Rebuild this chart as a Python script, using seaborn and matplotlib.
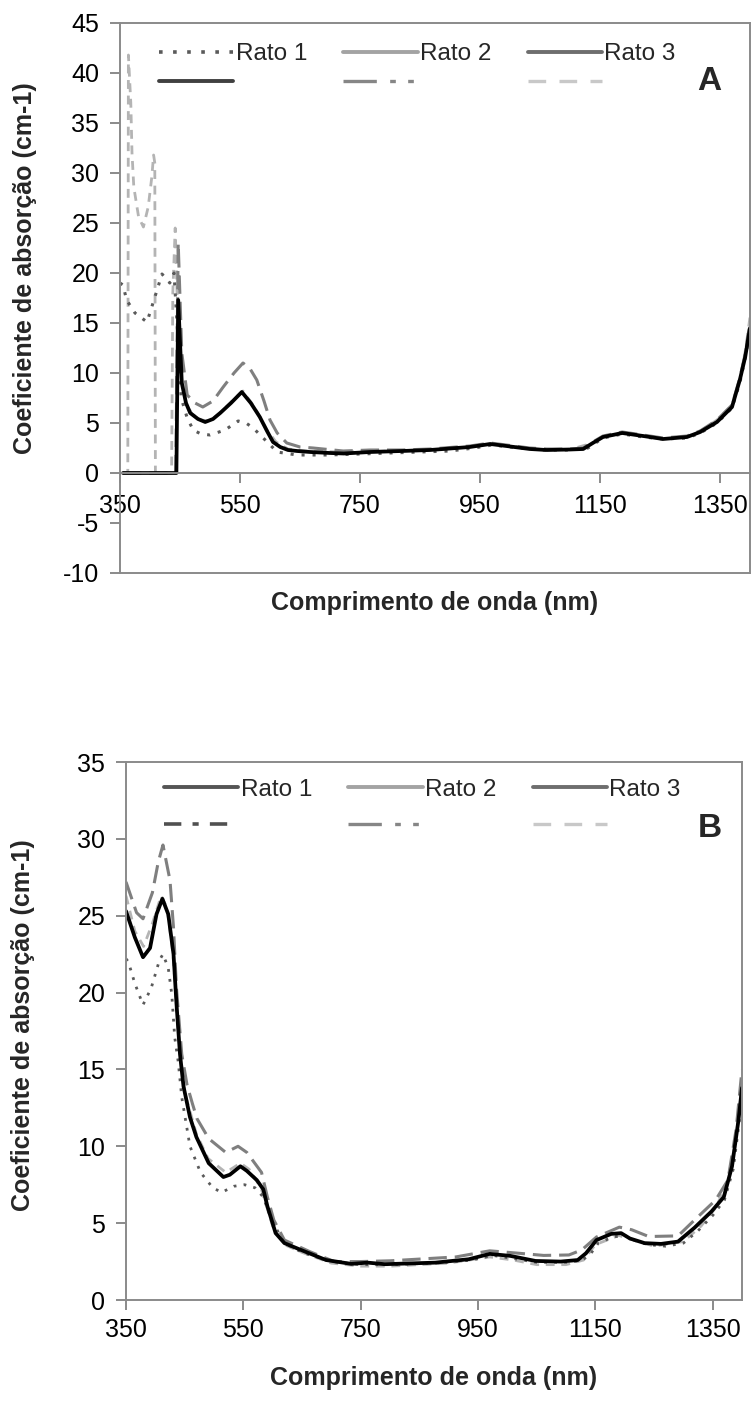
import matplotlib
matplotlib.use("Agg")
import matplotlib.pyplot as plt
import seaborn as sns
from matplotlib.lines import Line2D

# ---------------- Panel A data ----------------
a_rato1_nm = [350, 355, 361, 375, 395, 405, 420, 433, 440, 445, 452, 462, 472, 485, 500, 525, 547, 560, 572, 592,
              612, 645, 695, 750, 800, 850, 900, 940, 970, 1000, 1050, 1100, 1130, 1155, 1187, 1222, 1255, 1295, 1317, 1345,
              1370, 1383, 1392, 1400]
a_rato1 = [19.0, 18.8, 17.3, 16.0, 15.1, 17.0, 19.9, 19.0, 20.0, 15.0, 7.5, 5.5, 4.3, 3.9, 3.8, 4.3, 5.2, 5.0, 4.5, 3.3,
           2.1, 1.8, 1.8, 1.9, 2.0, 2.1, 2.2, 2.5, 2.8, 2.6, 2.3, 2.3, 2.5, 3.5, 3.9, 3.6, 3.4, 3.5, 4.0, 5.0,
           6.5, 9.0, 11.5, 14.2]

a_solid_nm = [355, 444, 447, 453, 460, 467, 480, 492, 505, 517, 535, 553, 568, 583, 595, 605, 617, 630, 645, 667,
              700, 723, 767, 820, 867, 933, 967, 994, 1033, 1061, 1100, 1122, 1138, 1155, 1187, 1222, 1255, 1295, 1317, 1345,
              1370, 1383, 1392, 1398, 1400]
a_solid = [0, 0, 17.3, 9.0, 7.0, 6.0, 5.4, 5.1, 5.4, 6.0, 7.0, 8.1, 7.0, 5.6, 4.2, 3.1, 2.6, 2.3, 2.2, 2.1,
           2.0, 1.95, 2.1, 2.2, 2.3, 2.6, 2.9, 2.7, 2.4, 2.3, 2.35, 2.4, 3.0, 3.6, 4.0, 3.7, 3.4, 3.6, 4.1, 5.1,
           6.6, 9.3, 11.6, 13.8, 14.5]

a_dashdot_nm = [355, 443, 447, 453, 462, 475, 488, 505, 522, 540, 555, 567, 578, 590, 600, 612, 628, 650, 672, 722,
                767, 820, 867, 933, 967, 994, 1033, 1061, 1100, 1122, 1138, 1155, 1187, 1222, 1255, 1295, 1317, 1345, 1370, 1383,
                1392, 1400]
a_dashdot = [0, 0, 23.0, 12.0, 7.8, 7.0, 6.6, 7.2, 8.6, 10.0, 11.0, 10.4, 9.3, 7.2, 5.3, 4.0, 3.0, 2.6, 2.5, 2.2,
             2.3, 2.3, 2.4, 2.7, 3.0, 2.8, 2.5, 2.4, 2.4, 2.5, 3.1, 3.7, 4.1, 3.8, 3.5, 3.7, 4.2, 5.3, 6.8, 9.5,
             11.9, 15.0]

a_dash_nm = [355, 363, 364, 368, 370, 373, 381, 389, 397, 403, 406, 408, 409, 436, 438, 442, 446, 452, 460, 470,
             485, 500, 520, 540, 555, 575, 595, 610, 630, 660, 720, 800, 900, 967, 1000, 1060, 1100, 1138, 1155, 1190,
             1222, 1255, 1295, 1320, 1345, 1370, 1385, 1393, 1400]
a_dash = [0, 0, 41.8, 37.0, 32.0, 28.6, 25.6, 24.6, 26.6, 29.6, 31.8, 31.0, 0, 0, 18.0, 24.5, 16.0, 9.5, 7.0, 5.9,
          5.3, 5.2, 6.2, 7.4, 8.2, 6.5, 4.3, 3.1, 2.4, 2.2, 2.1, 2.2, 2.4, 2.9, 2.7, 2.3, 2.35, 3.0, 3.6, 4.0,
          3.7, 3.4, 3.6, 4.3, 5.3, 6.8, 9.8, 12.5, 15.6]

# ---------------- Panel B data ----------------
b_solid_nm = [350, 365, 379, 391, 402, 412, 422, 431, 436, 442, 448, 459, 470, 491, 516, 527, 545, 556, 573, 584,
              591, 605, 620, 648, 691, 734, 762, 791, 877, 934, 970, 1005, 1048, 1091, 1120, 1134, 1152, 1177, 1194, 1209,
              1234, 1262, 1291, 1319, 1348, 1369, 1383, 1394, 1400]
b_solid = [25.3, 23.6, 22.3, 22.9, 25.1, 26.1, 25.1, 22.5, 19.3, 16.0, 13.9, 11.9, 10.6, 8.9, 8.0, 8.15, 8.7, 8.4, 7.8, 7.2,
           6.1, 4.35, 3.7, 3.26, 2.6, 2.35, 2.43, 2.33, 2.43, 2.65, 3.0, 2.87, 2.54, 2.5, 2.6, 3.04, 3.9, 4.3, 4.35, 4.0,
           3.7, 3.65, 3.8, 4.7, 5.76, 6.7, 8.7, 11.7, 13.8]

b_dot_nm = [350, 354, 365, 379, 393, 407, 413, 422, 428, 433, 439, 445, 459, 477, 498, 513, 534, 552, 570, 584,
            598, 620, 650, 700, 750, 800, 880, 940, 975, 1010, 1050, 1100, 1125, 1140, 1155, 1180, 1200, 1215, 1240, 1270,
            1300, 1325, 1350, 1370, 1385, 1395, 1400]
b_dot = [22.2, 22.0, 20.6, 19.2, 20.3, 22.1, 22.5, 21.6, 19.9, 17.1, 15.5, 13.2, 10.0, 8.3, 7.3, 7.0, 7.4, 7.5, 7.3, 6.7,
         5.2, 3.7, 3.1, 2.5, 2.3, 2.3, 2.4, 2.6, 2.9, 2.7, 2.45, 2.45, 2.55, 2.9, 3.7, 4.1, 4.2, 3.9, 3.6, 3.5,
         3.7, 4.5, 5.5, 6.5, 8.5, 11.5, 13.5]

b_dashdot_nm = [350, 368, 379, 395, 405, 413, 425, 431, 436, 445, 454, 463, 471, 491, 520, 541, 556, 581, 591, 602,
                620, 663, 705, 748, 800, 912, 970, 1020, 1062, 1105, 1127, 1152, 1191, 1212, 1241, 1291, 1319, 1355, 1376, 1390,
                1400]
b_dashdot = [27.2, 25.2, 24.8, 26.5, 28.5, 29.6, 27.3, 24.2, 20.3, 16.0, 14.0, 12.8, 11.8, 10.5, 9.6, 10.0, 9.6, 8.3, 6.7, 5.2,
             3.9, 3.15, 2.5, 2.5, 2.55, 2.8, 3.2, 3.04, 2.9, 2.93, 3.26, 4.1, 4.74, 4.57, 4.13, 4.17, 5.2, 6.5, 7.8, 11.1,
             15.0]

b_dash_nm = [350, 365, 380, 395, 410, 420, 430, 440, 450, 470, 490, 520, 545, 560, 580, 600, 620, 650, 700, 750,
             800, 900, 970, 1010, 1050, 1100, 1130, 1150, 1190, 1215, 1250, 1300, 1330, 1355, 1375, 1390, 1400]
b_dash = [26.3, 24.0, 23.0, 24.5, 26.3, 25.5, 22.5, 17.0, 13.5, 10.8, 9.2, 8.3, 8.9, 8.5, 7.3, 4.8, 3.6, 3.1, 2.4, 2.2,
          2.2, 2.4, 2.8, 2.6, 2.3, 2.3, 2.6, 3.6, 4.2, 3.9, 3.5, 3.8, 4.8, 6.0, 7.6, 10.5, 14.2]

legend_labels = ["Rato 1", "", "Rato 2", "", "Rato 3", ""]
x_ticks = [350, 550, 750, 950, 1150, 1350]
a_yticks = [-10, -5, 0, 5, 10, 15, 20, 25, 30, 35, 40, 45]
b_yticks = [0, 5, 10, 15, 20, 25, 30, 35]
x_title = "Comprimento de onda (nm)"
y_title = "Coeficiente de absorção (cm-1)"

# ---------------- style ----------------
sns.set_theme(style="white")
plt.rcParams["font.family"] = ["Liberation Sans", "DejaVu Sans"]
plt.rcParams["axes.unicode_minus"] = False

FS_TICK = 18
FS_LEG = 17.5
FS_TITLE = 18
GRID = "#8a8a8a"
C_DOT = "#5a5a5a"
C_BLACK = "#000000"
C_MED = "#7f7f7f"
C_LIGHT = "#b4b4b4"

fig = plt.figure(figsize=(7.52, 14.01), dpi=100)
axA = fig.add_axes([120 / 752, 1 - 573 / 1401, 630 / 752, 550 / 1401])
axB = fig.add_axes([126 / 752, 1 - 1300 / 1401, 616 / 752, 538 / 1401])


def draw(ax, nm, vals, color, lw, dashes=None):
    sns.lineplot(x=nm, y=vals, ax=ax, estimator=None, sort=False, color=color, linewidth=lw)
    line = ax.lines[-1]
    if dashes is not None:
        line.set_dashes(dashes)
    line.set_solid_joinstyle("round")
    return line


def style_axes(ax, yticks, ylim, zero_axis, xpad):
    ax.set_xlim(350, 1400)
    ax.set_ylim(*ylim)
    ax.set_xticks(x_ticks)
    ax.set_yticks(yticks)
    ax.set_xticklabels([str(v) for v in x_ticks])
    ax.set_yticklabels([str(v) for v in yticks])
    for sp in ax.spines.values():
        sp.set_color(GRID)
        sp.set_linewidth(1.4)
        sp.set_visible(True)
    ax.tick_params(axis="both", which="major", direction="out", length=7, width=1.4,
                   color=GRID, labelsize=FS_TICK, labelcolor="black")
    ax.tick_params(axis="x", bottom=True, top=False, pad=xpad)
    ax.tick_params(axis="y", left=True, right=False, pad=8)
    if zero_axis:
        ax.spines["bottom"].set_position(("data", 0))
        ax.plot([0, 1], [0, 0], transform=ax.transAxes, color=GRID, lw=1.4, clip_on=False)
    ax.set_xlabel(x_title, fontsize=FS_TITLE, fontweight="bold")
    ax.set_ylabel(y_title, fontsize=FS_TITLE, fontweight="bold")
    ax.grid(False)


def add_legend(ax, first_style, bbox, lspacing):
    if first_style == "A":
        h0 = Line2D([], [], color=C_DOT, lw=2.6, dashes=(1, 2.9))
        h1 = Line2D([], [], color="#404040", lw=2.8)
    else:
        h0 = Line2D([], [], color="#555555", lw=2.8)
        h1 = Line2D([], [], color="#505050", lw=2.6, dashes=(4.8, 3.1, 1.7, 3.1))
    h2 = Line2D([], [], color="#a3a3a3", lw=2.8)
    h3 = Line2D([], [], color="#868686", lw=2.4, dashes=(10, 4, 1.7, 3.7, 1.7, 20))
    h4 = Line2D([], [], color="#6e6e6e", lw=2.8)
    h5 = Line2D([], [], color="#c8c8c8", lw=2.4, dashes=(5.3, 4))
    ax.legend(handles=[h0, h1, h2, h3, h4, h5], labels=legend_labels, ncol=3, frameon=False,
              loc="upper left", bbox_to_anchor=bbox, fontsize=FS_LEG, handlelength=3.05,
              handletextpad=0.1, columnspacing=1.5, labelspacing=lspacing, borderpad=0,
              borderaxespad=0)


# ---------------- Panel A ----------------
draw(axA, a_dash_nm, a_dash, C_LIGHT, 2.0, (3.2, 2.4))
draw(axA, a_dashdot_nm, a_dashdot, C_MED, 2.2, (6, 2.6))
draw(axA, a_rato1_nm, a_rato1, C_DOT, 2.2, (1, 2.6))
draw(axA, a_solid_nm, a_solid, C_BLACK, 2.7)
style_axes(axA, a_yticks, (-10, 45), zero_axis=True, xpad=8)
axA.xaxis.set_label_coords(0.5, -0.033)
axA.yaxis.set_label_coords(-0.132, 0.555)
add_legend(axA, "A", (0.062, 0.9636), 0.3)
axA.text(0.935, 0.893, "A", transform=axA.transAxes, fontsize=24, fontweight="bold",
         ha="center", va="center")

# ---------------- Panel B ----------------
draw(axB, b_dash_nm, b_dash, C_LIGHT, 2.0, (3.2, 2.4))
draw(axB, b_dashdot_nm, b_dashdot, C_MED, 2.2, (6, 2.6))
draw(axB, b_dot_nm, b_dot, C_DOT, 2.0, (1, 2.6))
draw(axB, b_solid_nm, b_solid, C_BLACK, 2.7)
style_axes(axB, b_yticks, (0, 35), zero_axis=False, xpad=6)
axB.xaxis.set_label_coords(0.5, -0.122)
axB.yaxis.set_label_coords(-0.148, 0.51)
add_legend(axB, "B", (0.0617, 0.969), 0.6)
axB.text(0.948, 0.877, "B", transform=axB.transAxes, fontsize=24, fontweight="bold",
         ha="center", va="center")

fig.savefig("out.png", dpi=100, facecolor="white")
